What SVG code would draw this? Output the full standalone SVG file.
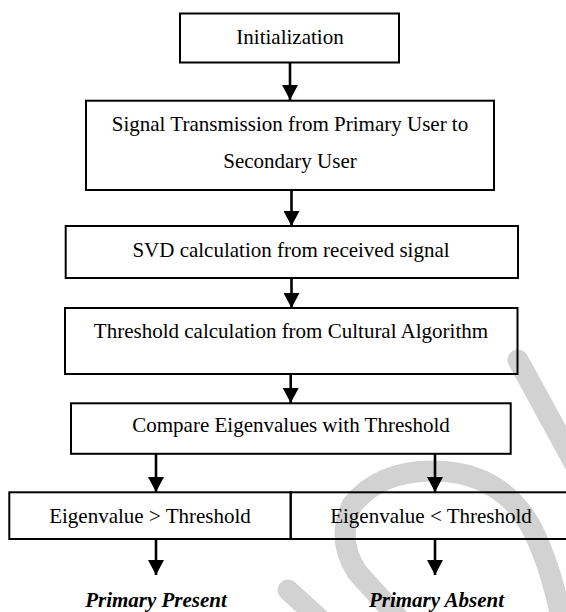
<svg xmlns="http://www.w3.org/2000/svg" width="566" height="612" viewBox="0 0 566 612">
<style>
.box{fill:none;stroke:#000;stroke-width:2}
.t{font-family:"Liberation Serif","Times New Roman",serif;font-size:21px;fill:#000;text-anchor:middle}
.tb{font-family:"Liberation Serif","Times New Roman",serif;font-size:21px;font-weight:bold;font-style:italic;fill:#000;text-anchor:middle}
.wm{fill:none;stroke:#d2d2d2;stroke-width:21;stroke-linecap:round}
.c line{stroke:#000;stroke-width:2.6}
</style>
<defs>
<marker id="ah" markerUnits="userSpaceOnUse" markerWidth="16" markerHeight="16" refX="15" refY="8" orient="auto">
<path d="M0,0 L15,8 L0,16 Z" fill="#000"/>
</marker>
</defs>
<rect width="566" height="612" fill="#fff"/>
<g id="watermark">
<path class="wm" d="M402,622 L357,572 Q336,540 352,505 Q380,470 437,471 Q500,473 530,525 Q550,562 562,622"/>
<path class="wm" d="M518,360 L590,492"/>
<path class="wm" d="M288,590 L345,642"/>
</g>
<g class="c" id="connectors">
<line x1="290" y1="62" x2="290" y2="100" marker-end="url(#ah)"/>
<line x1="291.5" y1="190" x2="291.5" y2="226" marker-end="url(#ah)"/>
<line x1="291.5" y1="278" x2="291.5" y2="308" marker-end="url(#ah)"/>
<line x1="290.7" y1="374" x2="290.7" y2="403" marker-end="url(#ah)"/>
<line x1="156" y1="454" x2="156" y2="492" marker-end="url(#ah)"/>
<line x1="435" y1="454" x2="435" y2="492" marker-end="url(#ah)"/>
<line x1="156" y1="539" x2="156" y2="575" marker-end="url(#ah)"/>
<line x1="435" y1="539" x2="435" y2="575" marker-end="url(#ah)"/>
</g>
<g id="init">
<rect class="box" x="180" y="13.5" width="219" height="49"/>
<text class="t" x="290" y="43.5">Initialization</text>
</g>
<g id="transmission">
<rect class="box" x="86" y="100.7" width="408" height="89.3"/>
<text class="t" x="290" y="131">Signal Transmission from Primary User to</text>
<text class="t" x="290" y="168">Secondary User</text>
</g>
<g id="svd">
<rect class="box" x="65.7" y="226" width="452.3" height="52"/>
<text class="t" x="291" y="257">SVD calculation from received signal</text>
</g>
<g id="threshold">
<rect class="box" x="65" y="308" width="452.5" height="66"/>
<text class="t" x="291" y="337.5">Threshold calculation from Cultural Algorithm</text>
</g>
<g id="compare">
<rect class="box" x="71" y="403.3" width="439.7" height="50.5"/>
<text class="t" x="291" y="432">Compare Eigenvalues with Threshold</text>
</g>
<g id="greater">
<rect class="box" x="9.3" y="492.3" width="281.4" height="46.7"/>
<text class="t" x="150" y="523">Eigenvalue &gt; Threshold</text>
</g>
<g id="less">
<rect class="box" x="290.7" y="492.3" width="280.3" height="46.7"/>
<text class="t" x="431" y="523">Eigenvalue &lt; Threshold</text>
</g>
<g id="present">
<text class="tb" x="156" y="606.5">Primary Present</text>
</g>
<g id="absent">
<text class="tb" x="436.5" y="606.5">Primary Absent</text>
</g>
</svg>
